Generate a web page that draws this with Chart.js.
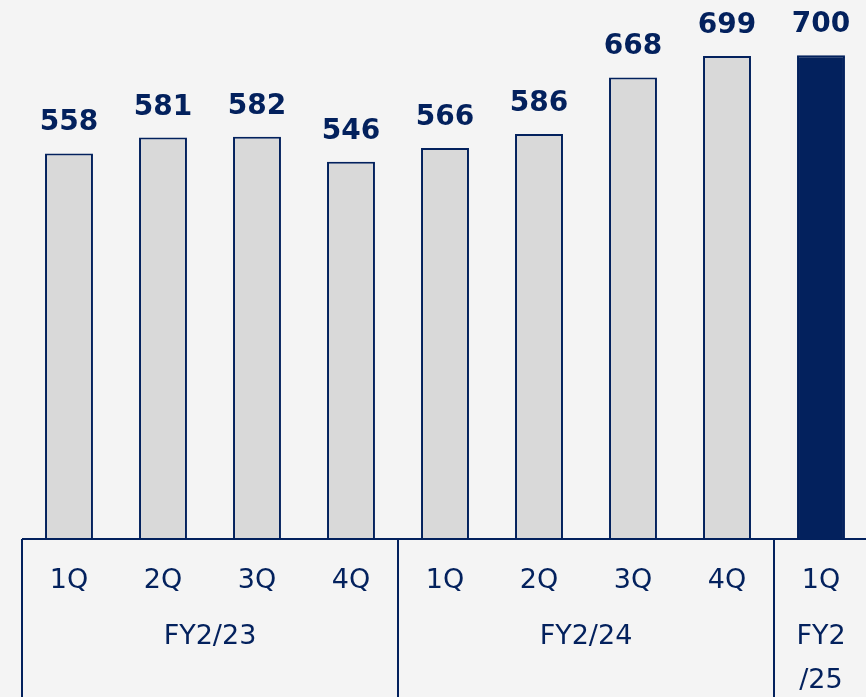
<!DOCTYPE html>
<html lang="en">
<head>
<meta charset="UTF-8">
<title>Quarterly chart</title>
<script src="https://cdn.jsdelivr.net/npm/chart.js"></script>
<style>
    html, body { margin: 0; padding: 0; background: #f4f4f4; overflow: hidden; }
    #wrap { width: 868px; height: 697px; position: relative; }
</style>
</head>
<body>
<div id="wrap"><canvas id="chart"></canvas></div>
<script>
    // data
    const quarters = ['1Q', '2Q', '3Q', '4Q', '1Q', '2Q', '3Q', '4Q', '1Q'];
    const values = [558, 581, 582, 546, 566, 586, 668, 699, 700];
    // fiscal year groups: label lines, first index, last index
    const fyLabels = [['FY2/23'], ['FY2/24'], ['FY2', '/25']];
    const fyStart = [0, 4, 8];
    const fyEnd = [3, 7, 8];

    const navy = '#03215d';
    const gray = '#d9d9d9';
    const font = '"DejaVu Sans", Verdana, sans-serif';

    const fills = values.map((v, i) => i === values.length - 1 ? navy : gray);

    // draws value labels and the category table under the bars
    const tablePlugin = {
        id: 'table',
        afterDatasetsDraw(chart) {
            const ctx = chart.ctx;
            const x = chart.scales.x;
            const area = chart.chartArea;
            const meta = chart.getDatasetMeta(0);
            const step = x.getPixelForValue(1) - x.getPixelForValue(0);
            const base = area.bottom;

            ctx.save();
            ctx.fillStyle = navy;
            ctx.textAlign = 'center';

            // values above bars
            ctx.font = 'bold 28px ' + font;
            ctx.textBaseline = 'alphabetic';
            meta.data.forEach((bar, i) => {
                ctx.fillText(values[i], bar.x, bar.y - 23);
            });

            // lines
            ctx.strokeStyle = navy;
            ctx.lineWidth = 2;
            ctx.beginPath();
            const left = x.getPixelForValue(0) - step / 2;
            ctx.moveTo(left, base);
            ctx.lineTo(chart.width, base);
            fyStart.forEach(s => {
                const bx = Math.round(x.getPixelForValue(s) - step / 2);
                ctx.moveTo(bx, base);
                ctx.lineTo(bx, chart.height);
            });
            ctx.stroke();

            // quarter labels
            ctx.font = '27px ' + font;
            ctx.textBaseline = 'middle';
            quarters.forEach((q, i) => {
                ctx.fillText(q, x.getPixelForValue(i), base + 42);
            });

            // fiscal year labels
            fyLabels.forEach((lines, g) => {
                const cx = (x.getPixelForValue(fyStart[g]) + x.getPixelForValue(fyEnd[g])) / 2;
                lines.forEach((t, k) => {
                    ctx.fillText(t, cx, base + 98 + k * 44);
                });
            });
            ctx.restore();
        }
    };

    new Chart(document.getElementById('chart'), {
        type: 'bar',
        data: {
            labels: quarters,
            datasets: [{
                data: values,
                backgroundColor: fills,
                borderColor: navy,
                borderWidth: 2,
                borderSkipped: 'bottom',
                barPercentage: 0.51,
                categoryPercentage: 1
            }]
        },
        options: {
            responsive: true,
            maintainAspectRatio: false,
            animation: false,
            layout: { padding: { left: 22, right: 0, top: 0, bottom: 158 } },
            plugins: {
                legend: { display: false },
                tooltip: { enabled: false }
            },
            scales: {
                x: { display: false },
                y: { display: false, min: 0, max: 780 }
            }
        },
        plugins: [tablePlugin]
    });
</script>
</body>
</html>
